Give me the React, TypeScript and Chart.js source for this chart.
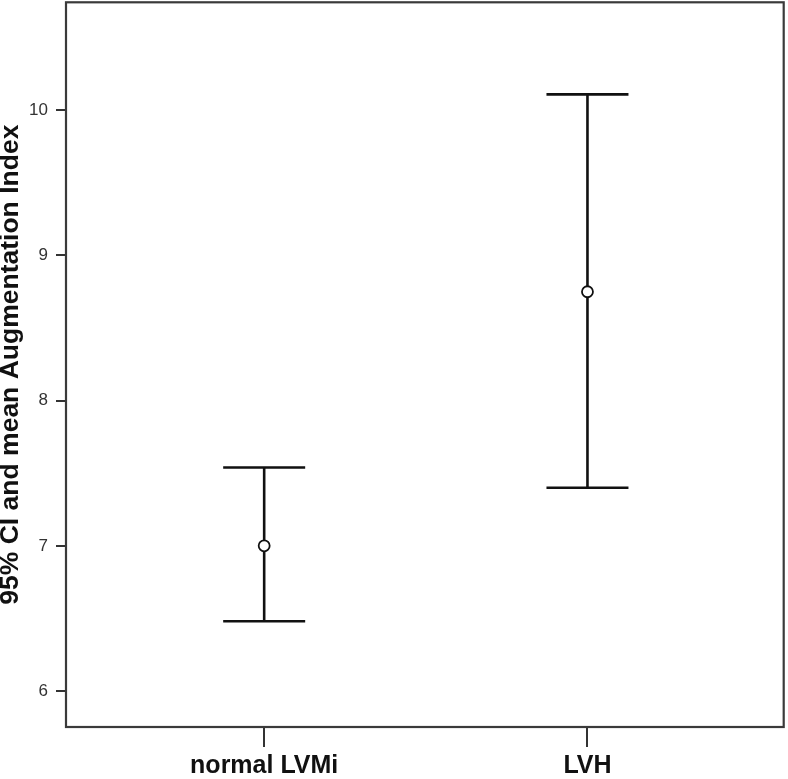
import React, { useEffect, useRef } from "react";
import { Chart, registerables } from "chart.js";

Chart.register(...registerables);

const categories = ["normal LVMi", "LVH"];
const means = [7.0, 8.75];
const lowerCI = [6.48, 7.40];
const upperCI = [7.54, 10.11];
const yTicks = [6, 7, 8, 9, 10];

const FONT = "Arial, 'Liberation Sans', sans-serif";

const errorBarPlugin = {
  id: "errorBars",
  afterDatasetsDraw(chart: any) {
    const { ctx, scales, chartArea } = chart;
    const xs = scales.x;
    const ys = scales.y;
    ctx.save();
    ctx.strokeStyle = "#111";
    ctx.lineWidth = 2.6;
    ctx.lineCap = "butt";
    const capHalf = 41;
    categories.forEach((_, i) => {
      const px = xs.getPixelForValue(i + 1);
      const top = ys.getPixelForValue(upperCI[i]);
      const bot = ys.getPixelForValue(lowerCI[i]);
      const m = ys.getPixelForValue(means[i]);
      const r = 5.5;
      ctx.beginPath();
      ctx.moveTo(px, top);
      ctx.lineTo(px, m - r);
      ctx.moveTo(px, m + r);
      ctx.lineTo(px, bot);
      ctx.moveTo(px - capHalf, top);
      ctx.lineTo(px + capHalf, top);
      ctx.moveTo(px - capHalf, bot);
      ctx.lineTo(px + capHalf, bot);
      ctx.stroke();
    });
    ctx.strokeStyle = "#3a3a3a";
    ctx.lineWidth = 2.2;
    ctx.strokeRect(chartArea.left, chartArea.top, chartArea.right - chartArea.left, chartArea.bottom - chartArea.top);
    ctx.restore();
  },
};

export default function App() {
  const ref = useRef<HTMLCanvasElement | null>(null);
  useEffect(() => {
    if (!ref.current) return;
    const chart = new Chart(ref.current, {
      type: "scatter",
      data: {
        datasets: [
          {
            data: means.map((v, i) => ({ x: i + 1, y: v })),
            pointRadius: 5.5,
            pointBorderWidth: 1.8,
            pointBorderColor: "#111",
            pointBackgroundColor: "rgba(0,0,0,0)",
            pointStyle: "circle",
          },
        ],
      },
      options: {
        animation: false,
        responsive: false,
        maintainAspectRatio: false,
        layout: { padding: { top: 2, right: 5, left: 0, bottom: 0 } },
        plugins: { legend: { display: false }, tooltip: { enabled: false } },
        scales: {
          x: {
            type: "linear",
            min: 0.387,
            max: 2.607,
            afterBuildTicks: (scale: any) => {
              scale.ticks = categories.map((_, i) => ({ value: i + 1 }));
            },
            afterFit: (scale: any) => {
              scale.height = 52;
              scale.paddingLeft = 0;
              scale.paddingRight = 0;
            },
            ticks: {
              callback: (v: any) => categories[Number(v) - 1] ?? "",
              color: "#111",
              font: { family: FONT, size: 25, weight: "bold" },
              padding: 4,
              maxRotation: 0,
            },
            grid: { drawOnChartArea: false, drawTicks: true, tickLength: 20, color: "#333", lineWidth: 2 },
            border: { display: false },
          },
          y: {
            min: 5.752,
            max: 10.744,
            afterBuildTicks: (scale: any) => {
              scale.ticks = yTicks.map((v) => ({ value: v }));
            },
            afterFit: (scale: any) => {
              scale.width = 66;
              scale.paddingTop = 0;
              scale.paddingBottom = 0;
            },
            ticks: {
              color: "#333",
              font: { family: FONT, size: 17 },
              padding: 8,
            },
            grid: { drawOnChartArea: false, drawTicks: true, tickLength: 10, color: "#333", lineWidth: 2 },
            border: { display: false },
            title: {
              display: true,
              text: "95% CI and mean Augmentation Index",
              color: "#111",
              font: { family: FONT, size: 26.5, weight: "bold" },
              padding: { top: -5, bottom: 0 },
            },
          },
        },
      },
      plugins: [errorBarPlugin],
    });
    return () => chart.destroy();
  }, []);
  return (
    <div style={{ position: "fixed", left: 0, top: 0, width: 788, height: 779, background: "#fff", overflow: "hidden" }}>
      <canvas
        ref={ref}
        width={791}
        height={784}
        style={{ display: "block", position: "absolute", left: 0, top: -5 }}
      />
    </div>
  );
}
